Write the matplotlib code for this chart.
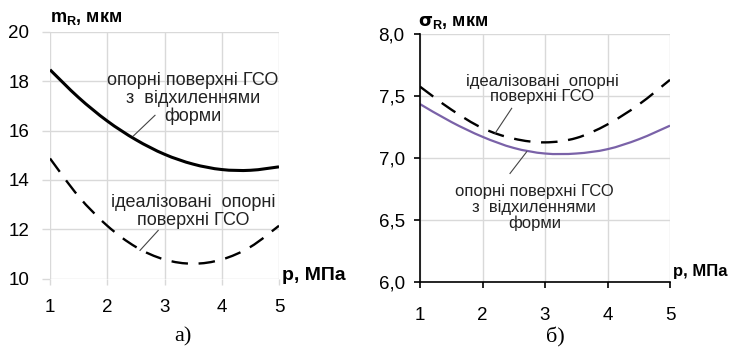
import matplotlib
matplotlib.use("Agg")
import matplotlib.pyplot as plt
from matplotlib.path import Path
from matplotlib.patches import PathPatch

# ---- data ----
p = [1, 1.5, 2, 2.5, 3, 3.5, 4, 4.5, 5]
m_real = [18.47, 17.34, 16.39, 15.63, 15.04, 14.64, 14.42, 14.39, 14.53]
m_ideal = [14.87, 13.33, 12.14, 11.28, 10.77, 10.60, 10.77, 11.28, 12.14]
s_ideal = [7.575, 7.39, 7.24, 7.155, 7.125, 7.16, 7.27, 7.43, 7.63]
s_real = [7.434, 7.29, 7.17, 7.08, 7.035, 7.035, 7.07, 7.15, 7.26]
xticks = [1, 2, 3, 4, 5]
m_yticks = [10, 12, 14, 16, 18, 20]
s_yticks = [6.0, 6.5, 7.0, 7.5, 8.0]
s_yticklabels = ["6,0", "6,5", "7,0", "7,5", "8,0"]

plt.rcParams['font.family'] = ['Liberation Sans', 'DejaVu Sans']
W, H = 738, 348
fig = plt.figure(figsize=(W / 100, H / 100), dpi=100)

GRID = '#d9d9d9'
TFS = 13.5   # tick labels
AFS = 13     # annotations


def smooth_path(xs, ys):
    """Smoothed line through the data points (Catmull-Rom as cubic Bezier)."""
    pts = list(zip(xs, ys))
    n = len(pts)
    verts = [pts[0]]
    codes = [Path.MOVETO]
    for i in range(n - 1):
        p0 = pts[i - 1] if i > 0 else pts[i]
        p1 = pts[i]
        p2 = pts[i + 1]
        p3 = pts[i + 2] if i + 2 < n else pts[i + 1]
        c1 = (p1[0] + (p2[0] - p0[0]) / 6, p1[1] + (p2[1] - p0[1]) / 6)
        c2 = (p2[0] - (p3[0] - p1[0]) / 6, p2[1] - (p3[1] - p1[1]) / 6)
        verts += [c1, c2, p2]
        codes += [Path.CURVE4] * 3
    return Path(verts, codes)


def draw_curve(ax, xs, ys, **kw):
    patch = PathPatch(smooth_path(xs, ys), fill=False, capstyle='butt', **kw)
    ax.add_patch(patch)


# ---------- left panel ----------
ax1 = fig.add_axes([50 / W, (H - 278.5) / H, 229 / W, 246.5 / H])
draw_curve(ax1, p, m_real, edgecolor='black', lw=2.2)
draw_curve(ax1, p, m_ideal, edgecolor='black', lw=1.7, linestyle=(0, (7, 4.5)))
ax1.set_xlim(1, 5)
ax1.set_ylim(10, 20)
ax1.set_xticks(xticks)
ax1.set_yticks(m_yticks)
ax1.grid(True, color=GRID, lw=1)
ax1.set_axisbelow(True)
for s in ax1.spines.values():
    s.set_visible(False)
ax1.tick_params(axis='both', colors=GRID, width=1, labelsize=TFS,
                labelcolor='black')
ax1.tick_params(axis='x', length=4, pad=11)
ax1.tick_params(axis='y', length=6, pad=9)

ax1.text(0.0, 1.056, r"m$_{\mathregular{R}}$, мкм", transform=ax1.transAxes,
         fontsize=13, fontweight='bold', ha='left', va='center')
ax1.text(1.012, 0.014, "p, МПа", transform=ax1.transAxes, fontsize=14,
         fontweight='bold', ha='left', va='center')

ax1.text(3.5, 17.30, "опорні поверхні ГСО\nз  відхиленнями\nформи", fontsize=AFS,
         ha='center', va='center', linespacing=1.05, color='#222222')
ax1.plot([2.455, 2.834], [15.78, 16.62], color='#444444', lw=0.8)
ax1.text(3.5, 12.73, "ідеалізовані  опорні\nповерхні ГСО", fontsize=AFS,
         ha='center', va='center', linespacing=1.05, color='#222222')
ax1.plot([2.572, 2.89], [11.14, 11.95], color='#444444', lw=0.8)

fig.text(183 / W, 1 - 337 / H, "а)", fontsize=16, family='Liberation Serif',
         ha='center', va='center')

# ---------- right panel ----------
ax2 = fig.add_axes([420 / W, (H - 281.7) / H, 250 / W, 247.7 / H])
draw_curve(ax2, p, s_ideal, edgecolor='black', lw=1.7, linestyle=(0, (7, 4.5)))
draw_curve(ax2, p, s_real, edgecolor='#7a62a8', lw=1.6)
ax2.set_xlim(1, 5)
ax2.set_ylim(6.0, 8.0)
ax2.set_xticks(xticks)
ax2.set_yticks(s_yticks)
ax2.set_yticklabels(s_yticklabels)
ax2.grid(True, color=GRID, lw=1)
ax2.set_axisbelow(True)
for k in ('top', 'right'):
    ax2.spines[k].set_visible(False)
for k in ('left', 'bottom'):
    ax2.spines[k].set_color('black')
    ax2.spines[k].set_linewidth(1.2)
ax2.tick_params(axis='both', colors='black', length=4, width=1.2, labelsize=TFS)
ax2.tick_params(axis='x', pad=14)
ax2.tick_params(axis='y', pad=7)

ax2.text(-0.008, 1.048, r"$\mathbf{\sigma}_{\mathregular{R}}$, мкм", transform=ax2.transAxes,
         fontsize=13, fontweight='bold', ha='left', va='center')
ax2.text(1.012, 0.04, "p, МПа", transform=ax2.transAxes, fontsize=12,
         fontweight='bold', ha='left', va='center')

ax2.text(2.95, 7.555, "ідеалізовані  опорні\nповерхні ГСО", fontsize=12,
         ha='center', va='center', linespacing=1.05, color='#222222')
ax2.plot([2.2, 2.467], [7.197, 7.40], color='#444444', lw=0.8)
ax2.text(2.83, 6.60, "опорні поверхні ГСО\nз  відхиленнями\nформи", fontsize=12,
         ha='center', va='center', linespacing=1.05, color='#222222')
ax2.plot([2.707, 2.44], [7.049, 6.874], color='#444444', lw=0.8)

fig.text(555 / W, 1 - 337 / H, "б)", fontsize=16, family='Liberation Serif',
         ha='center', va='center')

fig.savefig("out.png", dpi=100)
